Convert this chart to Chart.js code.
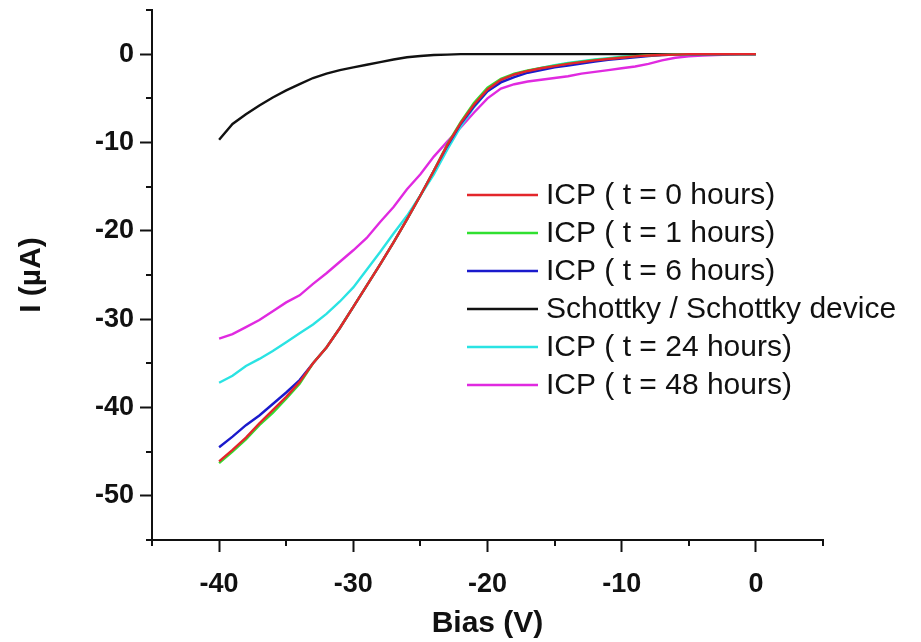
<!DOCTYPE html>
<html>
<head>
<meta charset="utf-8">
<script src="https://cdn.jsdelivr.net/npm/chart.js@4.4.1/dist/chart.umd.min.js"></script>
<style>
html,body{margin:0;padding:0;background:#fff;}
#wrap{width:921px;height:642px;position:relative;}
</style>
</head>
<body>
<div id="wrap"><canvas id="c" width="921" height="642"></canvas></div>
<script>
// Bias (V)
const bias = [-40,-39,-38,-37,-36,-35,-34,-33,-32,-31,-30,-29,-28,-27,-26,-25,-24,-23,-22,-21,-20,-19,-18,-17,-16,-15,-14,-13,-12,-11,-10,-9,-8,-7,-6,-5,-4,-3,-2,-1,0];

// Current (µA)
const icp0  = [-46.1,-44.8,-43.4,-41.8,-40.3,-38.8,-37.1,-35.0,-33.2,-31.0,-28.6,-26.2,-23.8,-21.3,-18.7,-16.0,-13.2,-10.3,-7.8,-5.7,-4.0,-2.9,-2.3,-1.9,-1.6,-1.35,-1.1,-0.9,-0.7,-0.55,-0.4,-0.25,-0.15,-0.1,-0.05,0,0,0,0,0,0];
const icp1  = [-46.3,-45.0,-43.6,-42.0,-40.6,-39.0,-37.3,-35.0,-33.2,-31.0,-28.6,-26.2,-23.8,-21.3,-18.7,-16.0,-13.2,-10.2,-7.7,-5.5,-3.8,-2.8,-2.2,-1.85,-1.55,-1.3,-1.05,-0.85,-0.65,-0.5,-0.35,-0.22,-0.12,-0.08,-0.04,0,0,0,0,0,0];
const icp6  = [-44.5,-43.3,-42.0,-40.9,-39.6,-38.3,-36.9,-35.0,-33.2,-31.0,-28.6,-26.2,-23.8,-21.3,-18.7,-16.0,-13.2,-10.4,-7.9,-5.9,-4.2,-3.2,-2.6,-2.1,-1.8,-1.5,-1.3,-1.05,-0.85,-0.65,-0.5,-0.35,-0.2,-0.1,-0.05,0,0,0,0,0,0];
const schottky = [-9.7,-7.9,-6.8,-5.8,-4.9,-4.1,-3.4,-2.7,-2.2,-1.8,-1.5,-1.2,-0.9,-0.6,-0.35,-0.2,-0.1,-0.05,0,0,0,0,0,0,0,0,0,0,0,0,0,0,0,0,0,0,0,0,0,0,0];
const icp24 = [-37.2,-36.4,-35.3,-34.5,-33.6,-32.6,-31.6,-30.6,-29.4,-28.0,-26.4,-24.4,-22.4,-20.3,-18.3,-16.0,-13.6,-10.8,-8.2,-6.0,-4.2,-3.0,-2.3,-1.9,-1.55,-1.25,-1.0,-0.8,-0.6,-0.45,-0.3,-0.2,-0.1,-0.05,0,0,0,0,0,0,0];
const icp48 = [-32.2,-31.7,-30.9,-30.1,-29.1,-28.1,-27.3,-26.0,-24.8,-23.5,-22.2,-20.8,-19.0,-17.3,-15.3,-13.6,-11.6,-9.9,-8.3,-6.6,-5.0,-3.9,-3.4,-3.1,-2.9,-2.7,-2.5,-2.2,-2.0,-1.8,-1.6,-1.4,-1.1,-0.7,-0.4,-0.25,-0.15,-0.1,-0.05,0,0];

const seriesLabels = ['ICP ( t = 0 hours)','ICP ( t = 1 hours)','ICP ( t = 6 hours)','Schottky / Schottky device','ICP ( t = 24 hours)','ICP ( t = 48 hours)'];
const seriesColors = ['#e3262b','#30e030','#1a1acc','#111111','#2ae3e3','#e02ae0'];
const seriesValues = [icp0, icp1, icp6, schottky, icp24, icp48];

const xTicks = [-40,-30,-20,-10,0];
const yTicks = [0,-10,-20,-30,-40,-50];

const datasets = seriesValues.map((vals, k) => ({
  label: seriesLabels[k],
  data: bias.map((x, i) => ({x: x, y: vals[i]})),
  borderColor: seriesColors[k],
  backgroundColor: seriesColors[k],
  borderWidth: 2.4,
  pointRadius: 0,
  tension: 0,
  fill: false
}));

const minorTicks = {
  id: 'minorTicks',
  afterDraw(chart) {
    const ctx = chart.ctx;
    ctx.save();
    ctx.strokeStyle = '#111';
    ctx.lineWidth = 2;
    const xs = chart.scales.x, ys = chart.scales.y;
    xs.ticks.forEach(t => {
      if (!xTicks.includes(t.value)) {
        const px = Math.round(xs.getPixelForValue(t.value));
        ctx.beginPath(); ctx.moveTo(px, xs.top); ctx.lineTo(px, xs.top + 6); ctx.stroke();
      }
    });
    ys.ticks.forEach(t => {
      if (!yTicks.includes(t.value)) {
        const py = Math.round(ys.getPixelForValue(t.value));
        ctx.beginPath(); ctx.moveTo(ys.right, py); ctx.lineTo(ys.right - 6, py); ctx.stroke();
      }
    });
    ctx.restore();
  }
};

const customLegend = {
  id: 'customLegend',
  afterDraw(chart) {
    const ctx = chart.ctx;
    ctx.save();
    ctx.font = '30px "Liberation Sans", Arial, sans-serif';
    ctx.textBaseline = 'middle';
    ctx.textAlign = 'left';
    const x0 = 467, x1 = 538, tx = 546, y0 = 195, dy = 38;
    chart.data.datasets.forEach((ds, i) => {
      const y = y0 + i * dy;
      ctx.strokeStyle = ds.borderColor;
      ctx.lineWidth = 2.4;
      ctx.beginPath(); ctx.moveTo(x0, y); ctx.lineTo(x1, y); ctx.stroke();
      ctx.fillStyle = '#111';
      ctx.fillText(ds.label, tx, y + 1);
    });
    ctx.restore();
  }
};

const tickFont = {family: '"Liberation Sans", Arial, sans-serif', size: 27, weight: 'bold'};
const titleFont = {family: '"Liberation Sans", Arial, sans-serif', size: 30, weight: 'bold'};

new Chart(document.getElementById('c'), {
  type: 'line',
  data: { datasets: datasets },
  options: {
    responsive: false,
    animation: false,
    layout: { padding: { top: 10, right: 98, left: 0, bottom: 0 } },
    plugins: { legend: { display: false }, tooltip: { enabled: false } },
    scales: {
      x: {
        type: 'linear', min: -45, max: 5,
        afterFit(s) { s.height = 102; s.paddingLeft = 0; s.paddingRight = 0; },
        ticks: {
          stepSize: 5, autoSkip: false, maxRotation: 0, color: '#111', font: tickFont, padding: 16,
          callback: v => xTicks.includes(v) ? String(v) : ''
        },
        grid: {
          drawOnChartArea: false, drawTicks: true, tickLength: 12, tickWidth: 2,
          tickColor: c => (c.tick && xTicks.includes(c.tick.value)) ? '#111' : 'rgba(0,0,0,0)'
        },
        border: { color: '#111', width: 2 },
        title: { display: true, text: 'Bias (V)', color: '#111', font: titleFont, padding: 0 }
      },
      y: {
        type: 'linear', min: -55, max: 5,
        afterFit(s) { s.width = 152; s.paddingTop = 0; s.paddingBottom = 0; },
        ticks: {
          stepSize: 5, autoSkip: false, color: '#111', font: tickFont, padding: 6,
          callback: v => yTicks.includes(v) ? String(v) : ''
        },
        grid: {
          drawOnChartArea: false, drawTicks: true, tickLength: 12, tickWidth: 2,
          tickColor: c => (c.tick && yTicks.includes(c.tick.value)) ? '#111' : 'rgba(0,0,0,0)'
        },
        border: { color: '#111', width: 2 },
        title: { display: true, text: 'I (\u00B5A)', color: '#111', font: titleFont, padding: { top: 14, bottom: 4 } }
      }
    }
  },
  plugins: [minorTicks, customLegend]
});
</script>
</body>
</html>
